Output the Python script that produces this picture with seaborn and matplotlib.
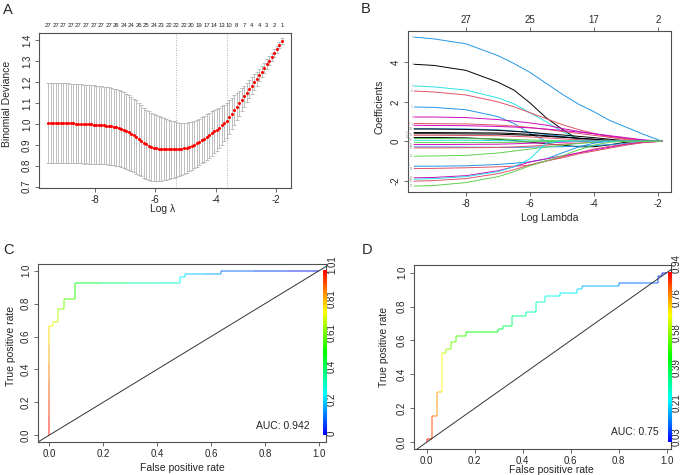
import numpy as np
import pandas as pd
import seaborn as sns
import matplotlib
matplotlib.use('Agg')
import matplotlib.pyplot as plt
from matplotlib.collections import LineCollection
from matplotlib.colors import ListedColormap, Normalize, hsv_to_rgb


# ---- panel A: cv.glmnet binomial deviance
log_lam_a = np.linspace(-9.55, -1.8, 94)
cv_mean = [1.005, 1.005, 1.005, 1.004, 1.004, 1.004,
           1.003, 1.003, 1.003, 1.002, 1.002, 1.001,
           1.000, 1.000, 0.999, 0.999, 0.998, 0.998,
           0.997, 0.996, 0.995, 0.994, 0.993, 0.992,
           0.990, 0.988, 0.986, 0.983, 0.980, 0.976,
           0.971, 0.966, 0.960, 0.953, 0.945, 0.937,
           0.928, 0.919, 0.910, 0.902, 0.896, 0.891,
           0.887, 0.884, 0.882, 0.881, 0.880, 0.879,
           0.878, 0.878, 0.878, 0.878, 0.879, 0.880,
           0.883, 0.886, 0.890, 0.895, 0.901, 0.907,
           0.914, 0.921, 0.929, 0.937, 0.946, 0.955,
           0.964, 0.972, 0.982, 0.993, 1.004, 1.015,
           1.032, 1.049, 1.066, 1.082, 1.099, 1.116,
           1.133, 1.149, 1.166, 1.183, 1.200, 1.216,
           1.233, 1.250, 1.267, 1.284, 1.301, 1.319,
           1.338, 1.356, 1.375, 1.395]
cv_se = [0.192, 0.192, 0.192, 0.192, 0.191, 0.191,
         0.191, 0.191, 0.190, 0.190, 0.190, 0.190,
         0.189, 0.189, 0.189, 0.188, 0.188, 0.188,
         0.187, 0.187, 0.186, 0.186, 0.185, 0.185,
         0.184, 0.184, 0.183, 0.183, 0.182, 0.181,
         0.180, 0.179, 0.178, 0.177, 0.176, 0.175,
         0.172, 0.170, 0.168, 0.166, 0.164, 0.162,
         0.160, 0.158, 0.155, 0.152, 0.149, 0.146,
         0.142, 0.138, 0.134, 0.130, 0.127, 0.124,
         0.121, 0.119, 0.117, 0.115, 0.113, 0.112,
         0.111, 0.110, 0.109, 0.108, 0.107, 0.106,
         0.104, 0.100, 0.096, 0.092, 0.088, 0.084,
         0.080, 0.075, 0.070, 0.065, 0.060, 0.055,
         0.050, 0.046, 0.042, 0.039, 0.036, 0.033,
         0.030, 0.028, 0.026, 0.024, 0.022, 0.020,
         0.018, 0.016, 0.015, 0.014]
cv_nz = ([27] * 27 + [26] * 3 + [24] * 6 + [26] * 3 + [25] * 3 + [24] * 3 +
         [23] * 3 + [22] * 9 + [20] * 3 + [19] * 3 + [17] * 3 + [14] * 3 +
         [13] * 3 + [10] * 3 + [8] * 3 + [7] * 3 + [4] * 6 + [3] * 3 + [2] * 3 + [1])
lam_min, lam_1se = -5.33, -3.63

# ---- panel B: coefficient paths
lam_b = [-9.62, -9.0, -8.0, -7.0, -6.5, -6.0, -5.5, -5.0, -4.5, -4.0, -3.5, -3.0, -2.5, -1.87]
coef_paths = [
    [5.29, 5.20, 4.95, 4.35, 3.95, 3.50, 2.95, 2.40, 1.90, 1.50, 1.05, 0.72, 0.38, 0.0],
    [3.91, 3.85, 3.60, 3.00, 2.60, 1.95, 1.20, 0.62, 0.10, 0.0, 0.0, 0.0, 0.0, 0.0],
    [2.81, 2.76, 2.60, 2.20, 1.90, 1.45, 1.00, 0.50, 0.12, 0.0, 0.0, 0.0, 0.0, 0.0],
    [2.55, 2.50, 2.35, 2.00, 1.75, 1.45, 1.15, 0.85, 0.60, 0.40, 0.20, 0.08, 0.02, 0.0],
    [1.74, 1.72, 1.60, 1.25, 0.90, 0.40, 0.0, 0.0, 0.0, 0.0, 0.0, 0.0, 0.0, 0.0],
    [1.23, 1.23, 1.20, 1.10, 1.02, 0.93, 0.82, 0.65, 0.50, 0.38, 0.25, 0.15, 0.05, 0.0],
    [0.90, 0.89, 0.88, 0.82, 0.77, 0.70, 0.60, 0.50, 0.40, 0.30, 0.20, 0.12, 0.04, 0.0],
    [0.81, 0.80, 0.79, 0.75, 0.72, 0.68, 0.62, 0.55, 0.47, 0.38, 0.28, 0.18, 0.08, 0.0],
    [0.64, 0.63, 0.62, 0.58, 0.52, 0.45, 0.35, 0.25, 0.15, 0.05, 0.0, 0.0, 0.0, 0.0],
    [0.62, 0.62, 0.60, 0.55, 0.50, 0.45, 0.38, 0.32, 0.25, 0.18, 0.10, 0.02, 0.0, 0.0],
    [0.44, 0.44, 0.43, 0.42, 0.39, 0.35, 0.28, 0.22, 0.16, 0.10, 0.0, 0.0, 0.0, 0.0],
    [0.38, 0.38, 0.37, 0.36, 0.33, 0.30, 0.25, 0.20, 0.15, 0.10, 0.05, 0.0, 0.0, 0.0],
    [0.30, 0.30, 0.29, 0.28, 0.25, 0.22, 0.17, 0.12, 0.08, 0.04, 0.0, 0.0, 0.0, 0.0],
    [0.19, 0.19, 0.17, 0.10, 0.03, -0.05, -0.12, -0.20, -0.28, -0.28, -0.18, -0.05, 0.0, 0.0],
    [0.14, 0.14, 0.13, 0.12, 0.09, 0.06, 0.04, 0.02, 0.0, 0.0, 0.0, 0.0, 0.0, 0.0],
    [0.05, 0.05, 0.05, 0.03, 0.02, 0.0, 0.0, 0.0, 0.0, 0.0, 0.0, 0.0, 0.0, 0.0],
    [-0.07, -0.07, -0.07, -0.06, -0.05, -0.03, -0.02, 0.0, 0.0, 0.0, 0.0, 0.0, 0.0, 0.0],
    [-0.17, -0.17, -0.16, -0.15, -0.13, -0.10, -0.08, -0.05, -0.02, 0.0, 0.0, 0.0, 0.0, 0.0],
    [-0.29, -0.29, -0.30, -0.31, -0.31, -0.30, -0.29, -0.28, -0.25, -0.22, -0.17, -0.12, -0.05, 0.0],
    [-0.34, -0.34, -0.33, -0.32, -0.29, -0.25, -0.20, -0.15, -0.10, -0.05, 0.0, 0.0, 0.0, 0.0],
    [-0.76, -0.75, -0.72, -0.60, -0.50, -0.40, -0.30, -0.20, -0.12, -0.05, 0.0, 0.0, 0.0, 0.0],
    [-1.27, -1.27, -1.25, -1.18, -1.12, -1.05, -0.90, -0.60, -0.30, -0.10, 0.0, 0.0, 0.0, 0.0],
    [-1.39, -1.38, -1.35, -1.30, -1.27, -1.22, -1.02, -0.80, -0.60, -0.40, -0.26, -0.15, -0.05, 0.0],
    [-1.86, -1.84, -1.75, -1.50, -1.30, -1.05, -0.90, -0.75, -0.60, -0.45, -0.30, -0.17, -0.07, 0.0],
    [-1.93, -1.90, -1.80, -1.55, -1.30, -0.90, -0.10, 0.0, 0.0, 0.0, 0.0, 0.0, 0.0, 0.0],
    [-2.03, -2.00, -1.90, -1.65, -1.45, -1.20, -1.00, -0.85, -0.65, -0.50, -0.35, -0.20, -0.08, 0.0],
    [-2.28, -2.25, -2.10, -1.80, -1.55, -1.25, -1.00, -0.75, -0.45, -0.20, -0.05, 0.0, 0.0, 0.0],
]
r_pal = {'black': '#000000', 'red': '#DF536B', 'green': '#61D04F',
         'blue': '#2297E6', 'cyan': '#28E2E5', 'magenta': '#CD0BBC'}
path_cols = ['blue', 'black', 'cyan', 'red', 'blue', 'magenta', 'red', 'magenta', 'blue',
             'black', 'black', 'black', 'red', 'black', 'green', 'cyan', 'green', 'magenta',
             'blue', 'red', 'green', 'blue', 'red', 'magenta', 'cyan', 'red', 'green']
top_ticks_b = [-8, -6, -4, -2]
top_df_b = [27, 25, 17, 2]

# ---- panel C / D: ROC curves, colour = cutoff
fpr_c = [0.0, 0.0, 0.0, 0.0, 0.0, 0.0, 0.0, 0.017, 0.017, 0.035, 0.035, 0.056, 0.056, 0.096,
         0.096, 0.19, 0.29, 0.39, 0.484, 0.484, 0.504, 0.504, 0.57, 0.638, 0.638, 0.76, 0.88, 1.0]
tpr_c = [0.0, 0.11, 0.22, 0.33, 0.44, 0.55, 0.663, 0.663, 0.686, 0.686, 0.765, 0.765, 0.826, 0.826,
         0.923, 0.923, 0.923, 0.923, 0.923, 0.959, 0.959, 0.98, 0.98, 0.98, 1.0, 1.0, 1.0, 1.0]
cut_c = [1.01, 0.98, 0.94, 0.90, 0.86, 0.82, 0.77, 0.74, 0.72, 0.70, 0.67, 0.64, 0.60, 0.57,
         0.50, 0.42, 0.37, 0.32, 0.28, 0.26, 0.24, 0.21, 0.18, 0.15, 0.12, 0.08, 0.04, 0.0]
bar_c = ['0', '0.2', '0.4', '0.61', '0.81', '1.01']
auc_c = 0.942

fpr_d = [0.0, 0.0, 0.021, 0.021, 0.042, 0.042, 0.063, 0.063, 0.081, 0.081, 0.102, 0.102, 0.123,
         0.123, 0.162, 0.162, 0.297, 0.297, 0.318, 0.318, 0.357, 0.357, 0.415, 0.415, 0.454,
         0.454, 0.494, 0.494, 0.554, 0.554, 0.627, 0.627, 0.648, 0.648, 0.802, 0.802, 0.962,
         0.962, 0.98, 0.98, 1.0]
tpr_d = [0.0, 0.018, 0.018, 0.157, 0.157, 0.295, 0.295, 0.528, 0.528, 0.548, 0.548, 0.589, 0.589,
         0.627, 0.627, 0.648, 0.648, 0.666, 0.666, 0.686, 0.686, 0.745, 0.745, 0.766, 0.766,
         0.825, 0.825, 0.862, 0.862, 0.882, 0.882, 0.902, 0.902, 0.921, 0.921, 0.941, 0.941,
         0.98, 0.98, 1.0, 1.0]
cut_d = [0.94, 0.93, 0.91, 0.86, 0.83, 0.78, 0.75, 0.68, 0.64, 0.62, 0.60, 0.58, 0.57, 0.55,
         0.53, 0.52, 0.44, 0.43, 0.42, 0.41, 0.39, 0.37, 0.35, 0.34, 0.33, 0.31, 0.30, 0.29,
         0.27, 0.26, 0.24, 0.23, 0.22, 0.21, 0.16, 0.15, 0.10, 0.08, 0.06, 0.04, 0.03]
bar_d = ['0.03', '0.21', '0.39', '0.58', '0.76', '0.94']
auc_d = 0.75


sns.set_style('ticks')
plt.rcParams['font.family'] = ['Liberation Sans', 'DejaVu Sans']
plt.rcParams['axes.unicode_minus'] = False

W, H = 685, 475
fig = plt.figure(figsize=(W / 100, H / 100), dpi=100)
box_col = '#505050'
tick_fs = 7
lab_fs = 7.5


def px_axes(l, t, r, b):
    return fig.add_axes([l / W, 1 - b / H, (r - l) / W, (b - t) / H])


def r_style(ax):
    for s in ax.spines.values():
        s.set_color(box_col)
        s.set_linewidth(0.8)
    ax.tick_params(direction='out', length=3, width=0.6, color=box_col,
                   labelsize=tick_fs, pad=2)
    ax.tick_params(axis='y', labelrotation=90)
    plt.setp(ax.get_yticklabels(), va='center')


# A
axa = px_axes(39, 33, 291, 188)
axa.errorbar(log_lam_a, cv_mean, yerr=cv_se, fmt='none', ecolor='#b4b4b4',
             elinewidth=0.6, capsize=1.6, capthick=0.6)
sns.scatterplot(x=log_lam_a, y=cv_mean, color='red', s=5, linewidth=0, ax=axa, zorder=3)
for v in (lam_min, lam_1se):
    axa.axvline(v, color='#999999', lw=0.6, ls=(0, (1, 2)))
axa.set_xlim(-9.86, -1.50)
axa.set_ylim(0.694, 1.434)
axa.set_xticks([-8, -6, -4, -2])
axa.set_yticks([0.7, 0.8, 0.9, 1.0, 1.1, 1.2, 1.3, 1.4])
axa.set_yticklabels(['0.7', '0.8', '0.9', '1.0', '1.1', '1.2', '1.3', '1.4'])
r_style(axa)
for x, n in zip(log_lam_a[::3], cv_nz[::3]):
    axa.text(x, 1.048, str(n), transform=axa.get_xaxis_transform(),
             ha='center', va='center', fontsize=4.3, color='#222222')
axa.set_xlabel('Log λ', fontsize=lab_fs)
axa.set_ylabel('Binomial Deviance', fontsize=lab_fs)
axa.xaxis.set_label_coords(0.49, -0.103)
axa.yaxis.set_label_coords(-0.108, 0.54)

# B
axb = px_axes(408, 31, 671, 192)
df_b = pd.DataFrame({
    'lam': np.tile(lam_b, len(coef_paths)),
    'coef': np.concatenate(coef_paths),
    'var': np.repeat(np.arange(len(coef_paths)), len(lam_b)),
})
sns.lineplot(data=df_b, x='lam', y='coef', hue='var', estimator=None, legend=False,
             palette=[r_pal[c] for c in path_cols], linewidth=0.7, ax=axb)
# tiny variable numbers at the start of each path, staggered where crowded
order = sorted(range(len(coef_paths)), key=lambda k: coef_paths[k][0])
last_y = {}
for k in order:
    y0 = coef_paths[k][0]
    col = 0
    while col in last_y and y0 - last_y[col] < 0.16:
        col += 1
    last_y[col] = y0
    axb.text(lam_b[0] - 0.04 - 0.07 * col, y0, str(k + 1), fontsize=1.8,
             color='#888888', ha='right', va='center')
axb.set_xlim(-9.81, -1.59)
axb.set_ylim(-2.58, 5.6)
axb.set_xticks([-8, -6, -4, -2])
axb.set_yticks([-2, 0, 2, 4])
r_style(axb)
top = axb.secondary_xaxis('top')
top.set_xticks(top_ticks_b, labels=[str(v) for v in top_df_b])
top.tick_params(direction='out', length=3, width=0.6, color=box_col,
                labelsize=tick_fs, pad=1.5)
top.spines['top'].set_visible(False)
axb.set_xlabel('Log Lambda', fontsize=lab_fs)
axb.set_ylabel('Coefficients', fontsize=lab_fs)
axb.xaxis.set_label_coords(0.54, -0.13)
axb.yaxis.set_label_coords(-0.091, 0.53)

# rainbow palette as in ROCR colorize (blue low -> red high)
hues = np.linspace(4 / 6, 0, 256)
rainbow = ListedColormap(hsv_to_rgb(np.column_stack([hues, np.ones(256), np.ones(256)])))


def roc_panel(ax, fpr, tpr, cut, bar_labels, auc, xlim, ylim, bar_x, lab_x, lab_y):
    pts = np.column_stack([fpr, tpr])
    segs = np.stack([pts[:-1], pts[1:]], axis=1)
    cut = np.asarray(cut)
    norm = Normalize(min(cut), max(cut))
    lc = LineCollection(segs, colors=rainbow(norm((cut[:-1] + cut[1:]) / 2)),
                        linewidths=1.3, alpha=0.5)
    ax.add_collection(lc)
    ax.axline((0, 0), slope=1, color='#333333', lw=0.7)
    ax.imshow(np.linspace(0, 1, 256)[:, None], extent=[bar_x[0], bar_x[1], 0, 1],
              origin='lower', cmap=rainbow, aspect='auto', clip_on=False, zorder=4)
    for y, t in zip(np.linspace(lab_y[0], lab_y[1], len(bar_labels)), bar_labels):
        ax.text(lab_x, y, t, rotation=90, ha='center', va='center', fontsize=tick_fs)
    ax.text(0.965, 0.058, f'AUC: {auc}', ha='right', va='center', fontsize=lab_fs)
    ax.set_xlim(*xlim)
    ax.set_ylim(*ylim)
    ax.set_xticks([0, 0.2, 0.4, 0.6, 0.8, 1.0])
    ax.set_yticks([0, 0.2, 0.4, 0.6, 0.8, 1.0])
    ax.set_xticklabels(['0.0', '0.2', '0.4', '0.6', '0.8', '1.0'])
    ax.set_yticklabels(['0.0', '0.2', '0.4', '0.6', '0.8', '1.0'])
    r_style(ax)
    ax.set_xlabel('False positive rate', fontsize=lab_fs)
    ax.set_ylabel('True positive rate', fontsize=lab_fs)


axc = px_axes(38, 264, 326, 442)
roc_panel(axc, fpr_c, tpr_c, cut_c, bar_c, auc_c, (-0.04, 1.025), (-0.04, 1.04),
          (1.014, 1.026), 1.047, (0.012, 1.035))
axc.xaxis.set_label_coords(0.5, -0.12)
axc.yaxis.set_label_coords(-0.078, 0.54)

axd = px_axes(414, 265, 671, 449)
roc_panel(axd, fpr_d, tpr_d, cut_d, bar_d, auc_d, (-0.053, 1.018), (-0.04, 1.045),
          (1.006, 1.021), 1.043, (0.031, 1.056))
axd.xaxis.set_label_coords(0.535, -0.088)
axd.yaxis.set_label_coords(-0.097, 0.555)

for lab, x, y in [('A', 3, 10), ('B', 361, 9), ('C', 3, 250), ('D', 362, 250)]:
    fig.text(x / W, 1 - y / H, lab, fontsize=10.5, ha='left', va='center')

fig.savefig('out.png', dpi=100)
